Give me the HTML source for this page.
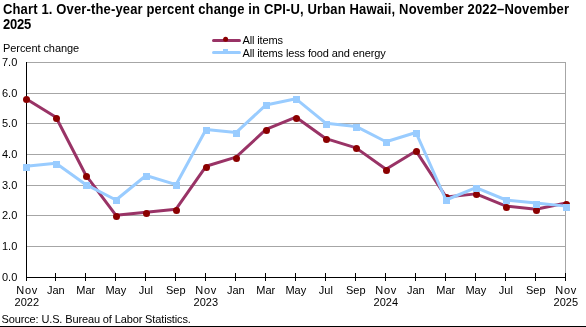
<!DOCTYPE html><html><head><meta charset="utf-8"><style>html,body{margin:0;padding:0;background:#fff;width:586px;height:327px;overflow:hidden}svg{display:block}text{font-family:"Liberation Sans",sans-serif}svg{-webkit-font-smoothing:antialiased;will-change:transform}</style></head><body>
<svg width="586" height="327" viewBox="0 0 586 327">
<g transform="translate(3,13.8) scale(1,1.08)"><text x="0" y="0" font-size="13" font-weight="bold" fill="#000" letter-spacing="0.15">Chart 1. Over-the-year percent change in CPI-U, Urban Hawaii, November 2022–November</text></g>
<g transform="translate(3,28.7) scale(1,1.08)"><text x="0" y="0" font-size="13" font-weight="bold" fill="#000" letter-spacing="-0.25">2025</text></g>
<text x="3" y="51.7" font-size="11" fill="#000" letter-spacing="-0.07">Percent change</text>
<line x1="26" x2="566" y1="246.5" y2="246.5" stroke="#a6a6a6" stroke-width="1" shape-rendering="crispEdges"/>
<line x1="26" x2="566" y1="215.5" y2="215.5" stroke="#a6a6a6" stroke-width="1" shape-rendering="crispEdges"/>
<line x1="26" x2="566" y1="185.5" y2="185.5" stroke="#a6a6a6" stroke-width="1" shape-rendering="crispEdges"/>
<line x1="26" x2="566" y1="154.5" y2="154.5" stroke="#a6a6a6" stroke-width="1" shape-rendering="crispEdges"/>
<line x1="26" x2="566" y1="123.5" y2="123.5" stroke="#a6a6a6" stroke-width="1" shape-rendering="crispEdges"/>
<line x1="26" x2="566" y1="93.5" y2="93.5" stroke="#a6a6a6" stroke-width="1" shape-rendering="crispEdges"/>
<line x1="26" x2="566" y1="62.5" y2="62.5" stroke="#a6a6a6" stroke-width="1" shape-rendering="crispEdges"/>
<line x1="565.5" x2="565.5" y1="62.0" y2="277" stroke="#a6a6a6" stroke-width="1" shape-rendering="crispEdges"/>
<text x="2" y="280.7" font-size="11" fill="#000">0.0</text>
<text x="2" y="250.0" font-size="11" fill="#000">1.0</text>
<text x="2" y="219.3" font-size="11" fill="#000">2.0</text>
<text x="2" y="188.7" font-size="11" fill="#000">3.0</text>
<text x="2" y="158.0" font-size="11" fill="#000">4.0</text>
<text x="2" y="127.3" font-size="11" fill="#000">5.0</text>
<text x="2" y="96.7" font-size="11" fill="#000">6.0</text>
<text x="2" y="66.0" font-size="11" fill="#000">7.0</text>
<line x1="26.5" x2="26.5" y1="62.0" y2="281" stroke="#000" stroke-width="1" shape-rendering="crispEdges"/>
<line x1="26" x2="566" y1="277.5" y2="277.5" stroke="#000" stroke-width="1" shape-rendering="crispEdges"/>
<line x1="26.5" x2="26.5" y1="273" y2="281" stroke="#000" stroke-width="1" shape-rendering="crispEdges"/>
<text x="27.2" y="293.8" font-size="11" text-anchor="middle" fill="#000" letter-spacing="0.8">Nov</text>
<text x="26.8" y="305.7" font-size="11" text-anchor="middle" fill="#000">2022</text>
<line x1="55.5" x2="55.5" y1="273" y2="281" stroke="#000" stroke-width="1" shape-rendering="crispEdges"/>
<text x="55.8" y="293.8" font-size="11" text-anchor="middle" fill="#000">Jan</text>
<line x1="85.5" x2="85.5" y1="273" y2="281" stroke="#000" stroke-width="1" shape-rendering="crispEdges"/>
<text x="85.8" y="293.8" font-size="11" text-anchor="middle" fill="#000">Mar</text>
<line x1="115.5" x2="115.5" y1="273" y2="281" stroke="#000" stroke-width="1" shape-rendering="crispEdges"/>
<text x="115.8" y="293.8" font-size="11" text-anchor="middle" fill="#000">May</text>
<line x1="145.5" x2="145.5" y1="273" y2="281" stroke="#000" stroke-width="1" shape-rendering="crispEdges"/>
<text x="145.8" y="293.8" font-size="11" text-anchor="middle" fill="#000">Jul</text>
<line x1="175.5" x2="175.5" y1="273" y2="281" stroke="#000" stroke-width="1" shape-rendering="crispEdges"/>
<text x="175.8" y="293.8" font-size="11" text-anchor="middle" fill="#000">Sep</text>
<line x1="205.5" x2="205.5" y1="273" y2="281" stroke="#000" stroke-width="1" shape-rendering="crispEdges"/>
<text x="206.2" y="293.8" font-size="11" text-anchor="middle" fill="#000" letter-spacing="0.8">Nov</text>
<text x="205.8" y="305.7" font-size="11" text-anchor="middle" fill="#000">2023</text>
<line x1="235.5" x2="235.5" y1="273" y2="281" stroke="#000" stroke-width="1" shape-rendering="crispEdges"/>
<text x="235.8" y="293.8" font-size="11" text-anchor="middle" fill="#000">Jan</text>
<line x1="265.5" x2="265.5" y1="273" y2="281" stroke="#000" stroke-width="1" shape-rendering="crispEdges"/>
<text x="265.8" y="293.8" font-size="11" text-anchor="middle" fill="#000">Mar</text>
<line x1="295.5" x2="295.5" y1="273" y2="281" stroke="#000" stroke-width="1" shape-rendering="crispEdges"/>
<text x="295.8" y="293.8" font-size="11" text-anchor="middle" fill="#000">May</text>
<line x1="325.5" x2="325.5" y1="273" y2="281" stroke="#000" stroke-width="1" shape-rendering="crispEdges"/>
<text x="325.8" y="293.8" font-size="11" text-anchor="middle" fill="#000">Jul</text>
<line x1="355.5" x2="355.5" y1="273" y2="281" stroke="#000" stroke-width="1" shape-rendering="crispEdges"/>
<text x="355.8" y="293.8" font-size="11" text-anchor="middle" fill="#000">Sep</text>
<line x1="385.5" x2="385.5" y1="273" y2="281" stroke="#000" stroke-width="1" shape-rendering="crispEdges"/>
<text x="386.2" y="293.8" font-size="11" text-anchor="middle" fill="#000" letter-spacing="0.8">Nov</text>
<text x="385.8" y="305.7" font-size="11" text-anchor="middle" fill="#000">2024</text>
<line x1="415.5" x2="415.5" y1="273" y2="281" stroke="#000" stroke-width="1" shape-rendering="crispEdges"/>
<text x="415.8" y="293.8" font-size="11" text-anchor="middle" fill="#000">Jan</text>
<line x1="445.5" x2="445.5" y1="273" y2="281" stroke="#000" stroke-width="1" shape-rendering="crispEdges"/>
<text x="445.8" y="293.8" font-size="11" text-anchor="middle" fill="#000">Mar</text>
<line x1="475.5" x2="475.5" y1="273" y2="281" stroke="#000" stroke-width="1" shape-rendering="crispEdges"/>
<text x="475.8" y="293.8" font-size="11" text-anchor="middle" fill="#000">May</text>
<line x1="505.5" x2="505.5" y1="273" y2="281" stroke="#000" stroke-width="1" shape-rendering="crispEdges"/>
<text x="505.8" y="293.8" font-size="11" text-anchor="middle" fill="#000">Jul</text>
<line x1="535.5" x2="535.5" y1="273" y2="281" stroke="#000" stroke-width="1" shape-rendering="crispEdges"/>
<text x="535.8" y="293.8" font-size="11" text-anchor="middle" fill="#000">Sep</text>
<line x1="565.5" x2="565.5" y1="273" y2="281" stroke="#000" stroke-width="1" shape-rendering="crispEdges"/>
<text x="566.2" y="293.8" font-size="11" text-anchor="middle" fill="#000" letter-spacing="0.8">Nov</text>
<text x="565.8" y="305.7" font-size="11" text-anchor="middle" fill="#000">2025</text>
<polyline points="26.00,98.80 56.00,117.20 86.00,175.47 116.00,215.33 146.00,212.27 176.00,209.20 206.00,166.27 236.00,157.07 266.00,129.47 296.00,117.20 326.00,138.67 356.00,147.87 386.00,169.33 416.00,150.93 446.00,196.93 476.00,193.87 506.00,206.13 536.00,209.20 566.00,203.07" fill="none" stroke="#993366" stroke-width="3" stroke-linejoin="round" stroke-linecap="round"/>
<circle cx="26.5" cy="99.5" r="3.5" fill="#8b0000"/>
<circle cx="56.5" cy="118.5" r="3.5" fill="#8b0000"/>
<circle cx="86.5" cy="176.5" r="3.5" fill="#8b0000"/>
<circle cx="116.5" cy="216.5" r="3.5" fill="#8b0000"/>
<circle cx="146.5" cy="213.5" r="3.5" fill="#8b0000"/>
<circle cx="176.5" cy="210.5" r="3.5" fill="#8b0000"/>
<circle cx="206.5" cy="167.5" r="3.5" fill="#8b0000"/>
<circle cx="236.5" cy="158.5" r="3.5" fill="#8b0000"/>
<circle cx="266.5" cy="130.5" r="3.5" fill="#8b0000"/>
<circle cx="296.5" cy="118.5" r="3.5" fill="#8b0000"/>
<circle cx="326.5" cy="139.5" r="3.5" fill="#8b0000"/>
<circle cx="356.5" cy="148.5" r="3.5" fill="#8b0000"/>
<circle cx="386.5" cy="170.5" r="3.5" fill="#8b0000"/>
<circle cx="416.5" cy="151.5" r="3.5" fill="#8b0000"/>
<circle cx="446.5" cy="197.5" r="3.5" fill="#8b0000"/>
<circle cx="476.5" cy="194.5" r="3.5" fill="#8b0000"/>
<circle cx="506.5" cy="207.5" r="3.5" fill="#8b0000"/>
<circle cx="536.5" cy="210.5" r="3.5" fill="#8b0000"/>
<circle cx="566.5" cy="204.5" r="3.5" fill="#8b0000"/>
<polyline points="26.00,166.27 56.00,163.20 86.00,184.67 116.00,200.00 146.00,175.47 176.00,184.67 206.00,129.47 236.00,132.53 266.00,104.93 296.00,98.80 326.00,123.33 356.00,126.40 386.00,141.73 416.00,132.53 446.00,200.00 476.00,187.73 506.00,200.00 536.00,203.07 566.00,206.13" fill="none" stroke="#99ccff" stroke-width="3" stroke-linejoin="round" stroke-linecap="round"/>
<rect x="23" y="164" width="7" height="7" fill="#99ccff"/>
<rect x="53" y="161" width="7" height="7" fill="#99ccff"/>
<rect x="83" y="182" width="7" height="7" fill="#99ccff"/>
<rect x="113" y="197" width="7" height="7" fill="#99ccff"/>
<rect x="143" y="173" width="7" height="7" fill="#99ccff"/>
<rect x="173" y="182" width="7" height="7" fill="#99ccff"/>
<rect x="203" y="127" width="7" height="7" fill="#99ccff"/>
<rect x="233" y="130" width="7" height="7" fill="#99ccff"/>
<rect x="263" y="102" width="7" height="7" fill="#99ccff"/>
<rect x="293" y="96" width="7" height="7" fill="#99ccff"/>
<rect x="323" y="121" width="7" height="7" fill="#99ccff"/>
<rect x="353" y="124" width="7" height="7" fill="#99ccff"/>
<rect x="383" y="139" width="7" height="7" fill="#99ccff"/>
<rect x="413" y="130" width="7" height="7" fill="#99ccff"/>
<rect x="443" y="197" width="7" height="7" fill="#99ccff"/>
<rect x="473" y="185" width="7" height="7" fill="#99ccff"/>
<rect x="503" y="197" width="7" height="7" fill="#99ccff"/>
<rect x="533" y="201" width="7" height="7" fill="#99ccff"/>
<rect x="563" y="204" width="7" height="7" fill="#99ccff"/>
<line x1="213.5" x2="239.5" y1="40.5" y2="40.5" stroke="#993366" stroke-width="3" stroke-linecap="round"/>
<circle cx="225.6" cy="39.3" r="2.5" fill="#8b0000"/>
<line x1="213.5" x2="239.5" y1="52.4" y2="52.4" stroke="#99ccff" stroke-width="3" stroke-linecap="round"/>
<rect x="223" y="49" width="5" height="5" fill="#99ccff"/>
<text x="242.5" y="43.8" font-size="11" fill="#000" letter-spacing="-0.12">All items</text>
<text x="242.5" y="56.6" font-size="11" fill="#000" letter-spacing="-0.12">All items less food and energy</text>
<text x="1.5" y="322.7" font-size="11" fill="#000" letter-spacing="-0.13">Source: U.S. Bureau of Labor Statistics.</text>
<rect x="0" y="326" width="586" height="1" fill="#000"/>
</svg></body></html>
